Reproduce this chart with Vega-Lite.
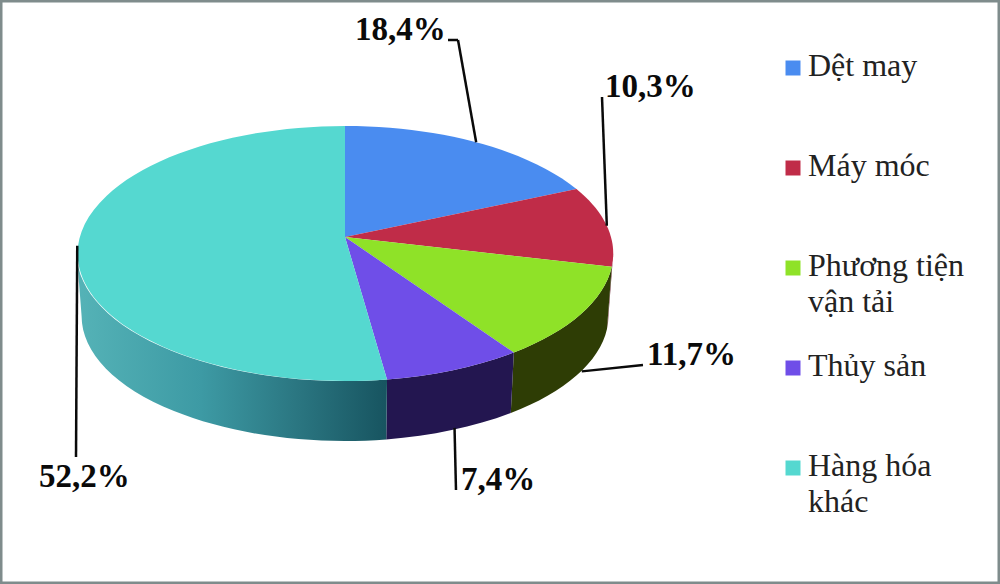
{
  "$schema": "https://vega.github.io/schema/vega-lite/v6.json",
  "autosize": {"type": "fit", "contains": "padding"},
  "width": 1000,
  "height": 584,
  "padding": 0,
  "background": "#ffffff",
  "view": {"stroke": "#7f8c8c", "strokeWidth": 5, "fill": "#ffffff"},
  "data": {"values": [
    {"slice": "Dệt may", "value": 18.4, "order": 1},
    {"slice": "Máy móc", "value": 10.3, "order": 2},
    {"slice": "Phương tiện vận tải", "value": 11.7, "order": 3},
    {"slice": "Thủy sản", "value": 7.4, "order": 4},
    {"slice": "Hàng hóa khác", "value": 52.2, "order": 5}
  ]},
  "transform": [
    {"window": [{"op": "sum", "field": "value", "as": "cum"}], "sort": [{"field": "order", "order": "ascending"}]},
    {"calculate": "(datum.cum-datum.value)*2*PI/100", "as": "a0"},
    {"calculate": "datum.cum*2*PI/100", "as": "a1"},
    {"calculate": "(datum.a0+datum.a1)/2", "as": "mid"},
    {"calculate": "345+266*sin(datum.a0)/(1+0.129*cos(datum.a0))", "as": "x0"},
    {"calculate": "237-125.4*cos(datum.a0)/(1+0.129*cos(datum.a0))", "as": "y0"},
    {"calculate": "345+266*sin(datum.a1)/(1+0.129*cos(datum.a1))", "as": "x1"},
    {"calculate": "237-125.4*cos(datum.a1)/(1+0.129*cos(datum.a1))", "as": "y1"},
    {"calculate": "'M345,237L'+datum.x0+','+datum.y0+'A268,127.5 0 '+(datum.a1-datum.a0>PI?1:0)+' 1 '+datum.x1+','+datum.y1+'Z'", "as": "topPath"},
    {"calculate": "max(datum.a0,1.70)", "as": "w0"},
    {"calculate": "min(datum.a1,4.583)", "as": "w1"},
    {"calculate": "345+266*sin(datum.w0)/(1+0.129*cos(datum.w0))", "as": "wx0"},
    {"calculate": "237-125.4*cos(datum.w0)/(1+0.129*cos(datum.w0))", "as": "wy0"},
    {"calculate": "345+266*sin(datum.w1)/(1+0.129*cos(datum.w1))", "as": "wx1"},
    {"calculate": "237-125.4*cos(datum.w1)/(1+0.129*cos(datum.w1))", "as": "wy1"},
    {"calculate": "'M'+datum.wx0+','+datum.wy0+'A268,127.5 0 0 1 '+datum.wx1+','+datum.wy1+'L'+(345+(datum.wx1-345)*0.982)+','+(316+(datum.wy1-253.5)*0.98)+'A263,125 0 0 0 '+(345+(datum.wx0-345)*0.982)+','+(316+(datum.wy0-253.5)*0.98)+'Z'", "as": "wallPath"},
    {"calculate": "345+266*sin(datum.mid)/(1+0.129*cos(datum.mid))", "as": "ax"},
    {"calculate": "237-125.4*cos(datum.mid)/(1+0.129*cos(datum.mid))+((datum.mid>1.7&&datum.mid<4)?58:0)", "as": "ay"},
    {"calculate": "{'Dệt may':458,'Máy móc':602,'Phương tiện vận tải':643,'Thủy sản':456,'Hàng hóa khác':76}[datum.slice]", "as": "ex"},
    {"calculate": "{'Dệt may':40,'Máy móc':97,'Phương tiện vận tải':365,'Thủy sản':490,'Hàng hóa khác':457}[datum.slice]", "as": "ey"},
    {"calculate": "{'Dệt may':448,'Máy móc':602,'Phương tiện vận tải':643,'Thủy sản':456,'Hàng hóa khác':76}[datum.slice]", "as": "fx"},
    {"calculate": "{'Dệt may':355,'Máy móc':605,'Phương tiện vận tải':647,'Thủy sản':461,'Hàng hóa khác':39}[datum.slice]", "as": "tx"},
    {"calculate": "{'Dệt may':40,'Máy móc':97,'Phương tiện vận tải':365,'Thủy sản':490,'Hàng hóa khác':487}[datum.slice]", "as": "ty"},
    {"calculate": "replace(format(datum.value,'.1f'),'.',',')+'%'", "as": "label"}
  ],
  "layer": [
    {
      "transform": [{"filter": "datum.w1>datum.w0 && datum.slice!='Hàng hóa khác'"}],
      "mark": {"type": "point", "filled": true, "opacity": 1, "size": 4, "strokeWidth": 0},
      "encoding": {
        "x": {"value": 0},
        "y": {"value": 0},
        "shape": {"field": "wallPath", "type": "nominal", "scale": null, "legend": null},
        "fill": {"field": "slice", "type": "nominal", "legend": null,
          "scale": {"domain": ["Máy móc", "Phương tiện vận tải", "Thủy sản"], "range": ["#5e1524", "#2e3d05", "#231650"]}}
      }
    },
    {
      "transform": [{"filter": "datum.slice=='Hàng hóa khác'"}],
      "mark": {"type": "point", "filled": true, "opacity": 1, "size": 4, "strokeWidth": 0,
        "color": {"gradient": "linear", "x1": 0, "y1": 0, "x2": 1, "y2": 0, "stops": [
          {"offset": 0, "color": "#55b3b7"},
          {"offset": 0.4, "color": "#3d9aa4"},
          {"offset": 0.72, "color": "#2a7580"},
          {"offset": 1, "color": "#175460"}
        ]}},
      "encoding": {
        "x": {"value": 0},
        "y": {"value": 0},
        "shape": {"field": "wallPath", "type": "nominal", "scale": null, "legend": null}
      }
    },
    {
      "mark": {"type": "point", "filled": true, "opacity": 1, "size": 4, "strokeWidth": 0},
      "encoding": {
        "x": {"value": 0},
        "y": {"value": 0},
        "shape": {"field": "topPath", "type": "nominal", "scale": null, "legend": null},
        "color": {
          "field": "slice", "type": "nominal",
          "sort": ["Dệt may", "Máy móc", "Phương tiện vận tải", "Thủy sản", "Hàng hóa khác"],
          "scale": {"domain": ["Dệt may", "Máy móc", "Phương tiện vận tải", "Thủy sản", "Hàng hóa khác"],
            "range": ["#4a8cf0", "#c02c48", "#8fe228", "#6f4ee8", "#55d8d0"]},
          "legend": {
            "title": null, "orient": "none", "legendX": 777, "legendY": 52, "padding": 0,
            "symbolType": "square", "symbolSize": 225, "symbolStrokeWidth": 0, "symbolOpacity": 1,
            "labelFont": "Liberation Serif", "labelFontSize": 32, "labelColor": "#222222",
            "labelLimit": 300, "labelOffset": -1, "rowPadding": 32, "gridAlign": "all",
            "labelExpr": "datum.label=='Phương tiện vận tải'?['Phương tiện','vận tải']:datum.label=='Hàng hóa khác'?['Hàng hóa','khác']:datum.label",
            "encode": {"labels": {"update": {"lineHeight": {"value": 36}, "baseline": {"value": "top"}, "dy": {"value": -17}}}}
          }
        }
      }
    },
    {
      "mark": {"type": "rule", "color": "#0a0a0a", "strokeWidth": 2.5},
      "encoding": {
        "x": {"field": "ax", "type": "quantitative", "scale": null},
        "y": {"field": "ay", "type": "quantitative", "scale": null},
        "x2": {"field": "ex"},
        "y2": {"field": "ey"}
      }
    },
    {
      "mark": {"type": "rule", "color": "#0a0a0a", "strokeWidth": 2.5},
      "encoding": {
        "x": {"field": "ex", "type": "quantitative", "scale": null},
        "y": {"field": "ey", "type": "quantitative", "scale": null},
        "x2": {"field": "fx"},
        "y2": {"field": "ey"}
      }
    },
    {
      "mark": {"type": "text", "font": "Liberation Serif", "fontWeight": "bold", "fontSize": 33, "align": "left", "baseline": "alphabetic", "color": "#0a0a0a"},
      "encoding": {
        "x": {"field": "tx", "type": "quantitative", "scale": null},
        "y": {"field": "ty", "type": "quantitative", "scale": null},
        "text": {"field": "label", "type": "nominal"}
      }
    }
  ]
}
